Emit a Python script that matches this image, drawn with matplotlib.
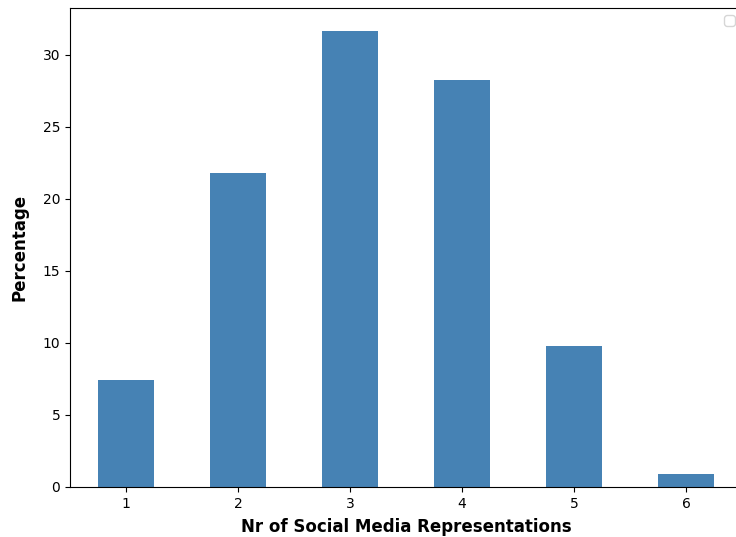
import matplotlib
matplotlib.use('Agg')
import matplotlib.pyplot as plt

# number of social media representations and share of items (%)
categories = ['1', '2', '3', '4', '5', '6']
percentages = [7.45, 21.8, 31.65, 28.22, 9.77, 0.93]

fig = plt.figure(figsize=(7.36, 5.37), dpi=100)
# axes runs a little past the right edge, like the cropped original
ax = fig.add_axes([70 / 736, 50 / 537, 672 / 736, 479 / 537])

x = range(len(categories))
ax.bar(x, percentages, width=0.5, color='steelblue')
ax.set_xticks(list(x))
ax.set_xticklabels(categories)
ax.set_xlim(-0.5, len(categories) - 0.5)
# right spine sits outside the picture in the original
ax.spines['right'].set_visible(False)

ax.set_xlabel('Nr of Social Media Representations', fontsize=12, fontweight='bold', labelpad=5)
ax.set_ylabel('Percentage', fontsize=12, fontweight='bold', labelpad=10)

# empty legend box (no labelled artists)
ax.legend(handles=[], loc='upper right')

fig.savefig('out.png', dpi=100)
